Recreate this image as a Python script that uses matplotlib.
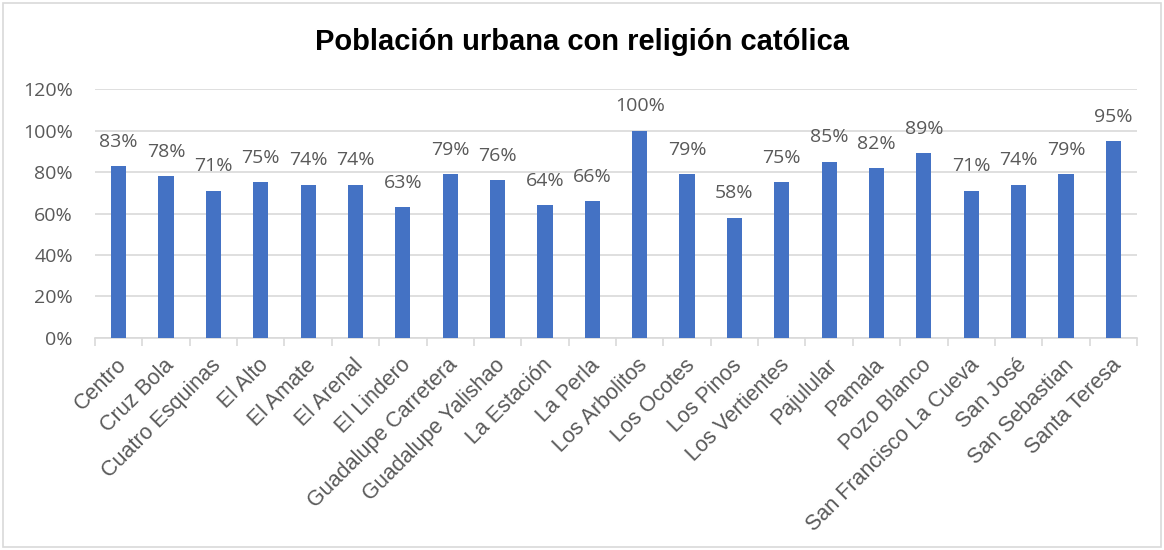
import matplotlib.pyplot as plt
from matplotlib.patches import Rectangle
from matplotlib.ticker import PercentFormatter

# Datos: porcentaje de población urbana con religión católica por localidad
localidades = ['Centro', 'Cruz Bola', 'Cuatro Esquinas', 'El Alto', 'El Amate',
               'El Arenal', 'El Lindero', 'Guadalupe Carretera', 'Guadalupe Yalishao',
               'La Estación', 'La Perla', 'Los Arbolitos', 'Los Ocotes', 'Los Pinos',
               'Los Vertientes', 'Pajulular', 'Pamala', 'Pozo Blanco',
               'San Francisco La Cueva', 'San José', 'San Sebastian', 'Santa Teresa']
catolicos = [0.83, 0.78, 0.71, 0.75, 0.74, 0.74, 0.63, 0.79, 0.76, 0.64, 0.66,
             1.00, 0.79, 0.58, 0.75, 0.85, 0.82, 0.89, 0.71, 0.74, 0.79, 0.95]
yticks = [0, 0.2, 0.4, 0.6, 0.8, 1.0, 1.2]

gris = '#595959'
azul = '#4472C4'

fig = plt.figure(figsize=(11.64, 5.5), dpi=100)
ax = fig.add_axes([0.0816, 0.3855, 0.8952, 0.4525])

x = range(len(localidades))
ax.bar(x, catolicos, width=0.32, color=azul, zorder=3)

# etiquetas de valor sobre cada barra
for i, v in zip(x, catolicos):
    ax.annotate(f'{v:.0%}', (i, v), xytext=(0, 11), textcoords='offset points',
                ha='center', va='bottom', fontsize=14, color=gris, family='Open Sans')

ax.set_ylim(0, 1.2)
ax.set_xlim(-0.5, len(localidades) - 0.5)
ax.set_yticks(yticks)
ax.yaxis.set_major_formatter(PercentFormatter(1.0, decimals=0))
ax.grid(axis='y', color='#D9D9D9', linewidth=1.2, zorder=0)

for s in ['top', 'right', 'left']:
    ax.spines[s].set_visible(False)
ax.spines['bottom'].set_color('#D9D9D9')
ax.spines['bottom'].set_linewidth(1.2)

# marcas entre categorías en el eje x
ax.set_xticks([i - 0.5 for i in range(len(localidades) + 1)], minor=False)
ax.set_xticklabels([])
ax.tick_params(axis='x', length=6, color='#D9D9D9', width=1.2)
ax.tick_params(axis='y', length=0, labelsize=14, labelcolor=gris, pad=16)
for lab in ax.get_yticklabels():
    lab.set_family('Open Sans')

for i, nombre in enumerate(localidades):
    ax.annotate(nombre, (i, 0), xytext=(-2, -12), textcoords='offset points',
                rotation=45, ha='right', va='top', rotation_mode='anchor',
                fontsize=15.5, color=gris, family='Liberation Sans')

fig.text(0.5, 0.924, 'Población urbana con religión católica', ha='center',
         va='center', fontsize=21, fontweight='bold', family='Liberation Sans',
         color='black')

# borde del gráfico
fig.patches.append(Rectangle((0.003, 0.005), 0.994, 0.99, transform=fig.transFigure,
                             fill=False, edgecolor='#D9D9D9', linewidth=1.2))

fig.savefig('out.png', dpi=100)
